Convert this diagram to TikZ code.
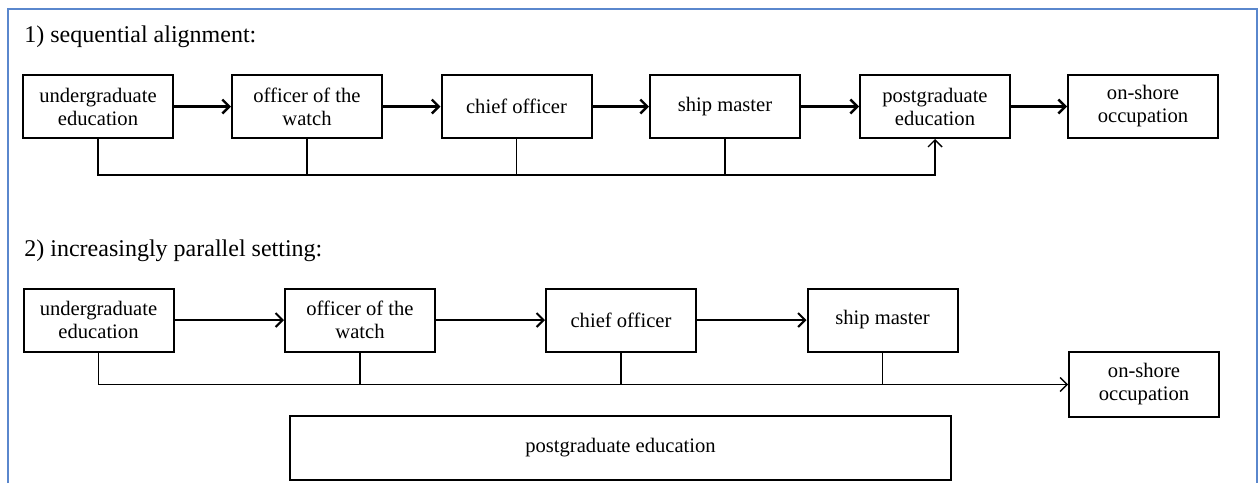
\documentclass[tikz,border=0pt]{standalone}
\usepackage{fontspec}
\setmainfont{Liberation Serif}
\usetikzlibrary{arrows.meta}
\definecolor{frameblue}{RGB}{90,135,205}

\begin{document}
\begin{tikzpicture}[x=0.5pt,y=-0.5pt]
\tikzstyle{stage}=[draw,line width=1pt,minimum width=75pt,minimum height=31.5pt,align=center,inner sep=1pt,font=\fontsize{10.3}{11.5}\selectfont]
\tikzstyle{flow}=[line width=1.2pt,-{Straight Barb[length=3.5pt,width=7pt]}]
\tikzstyle{link}=[line width=0.7pt]
\tikzstyle{heading}=[anchor=base west,inner sep=0pt,font=\fontsize{12}{14}\selectfont]
\useasboundingbox (0,0) rectangle (1260,483);
\draw[frameblue,line width=1.2pt] (8,483) -- (8,9) -- (1257,9) -- (1257,483);

% 1) sequential alignment
\begin{scope}
\node[heading] (t1) at (24,42) {1) sequential alignment:};
\foreach \x/\n/\t in {98/u1/undergraduate\\education,307/o1/officer of the\\watch,516.5/c1/chief officer,725/s1/ship master,935/p1/postgraduate\\education,1143/j1/on-shore\\occupation}{
\node[stage] (\n) at (\x,106.5) {\t};
};
\foreach \a/\b in {u1/o1,o1/c1,c1/s1,s1/p1,p1/j1}{
\draw[flow] (\a) -- (\b);
}
\draw[link,-{Straight Barb[length=3.5pt,width=7pt]}] (u1.south) -- (u1.south |- 0,175) -| (p1.south);
\foreach \n in {o1,c1,s1}{
\draw[link] (\n.south) -- (\n.south |- 0,175);
}
\end{scope}

% 2) increasingly parallel setting
\begin{scope}
\node[heading] (t2) at (24,256) {2) increasingly parallel setting:};
\foreach \x/\n/\t in {98.5/u2/undergraduate\\education,360/o2/officer of the\\watch,621/c2/chief officer,882.5/s2/ship master}{
\node[stage] (\n) at (\x,320) {\t};
};
\node[stage,minimum height=32.5pt] (j2) at (1144,384.5) {on-shore\\occupation};
\node[stage,minimum width=330.5pt,minimum height=32pt] (p2) at (620.5,448) {postgraduate education};
\foreach \a/\b in {u2/o2,o2/c2,c2/s2}{
\draw[flow,line width=1pt] (\a) -- (\b);
}
\draw[link,-{Straight Barb[length=3.5pt,width=7pt]}] (u2.south) -- (u2.south |- j2.west) -- (j2.west);
\foreach \n in {o2,c2,s2}{
\draw[link] (\n.south) -- (\n.south |- j2.west);
}
\end{scope}
\end{tikzpicture}
\end{document}
